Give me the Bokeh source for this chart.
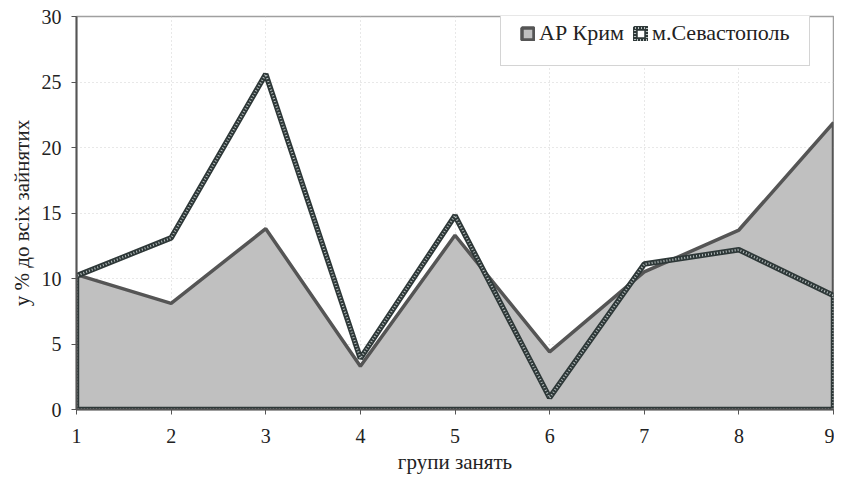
from bokeh.plotting import figure
from bokeh.models import Range1d, FixedTicker, Legend, LegendItem
from bokeh.embed import file_html
from bokeh.resources import INLINE

groups = [1, 2, 3, 4, 5, 6, 7, 8, 9]
krym = [10.3, 8.1, 13.8, 3.3, 13.3, 4.4, 10.5, 13.7, 21.9]
sevastopol = [10.2, 13.1, 25.6, 3.9, 14.8, 0.9, 11.1, 12.2, 8.7]
y_ticks = [0, 5, 10, 15, 20, 25, 30]
name_krym = "АР Крим"
name_sev = "м.Севастополь"

FONT = "'Liberation Serif', 'DejaVu Serif', serif"

p = figure(width=834, height=480, output_backend="svg", toolbar_location=None,
           x_range=Range1d(1, 9), y_range=Range1d(0, 30),
           min_border_left=76, min_border_right=1, min_border_top=16, min_border_bottom=71)

p.outline_line_color = "#a0a0a0"
p.outline_line_width = 1.5
p.background_fill_color = "white"

xs_poly = [groups[0]] + groups + [groups[-1]]
krym_poly = [0] + krym + [0]
sev_poly = [0] + sevastopol + [0]

r_k = p.patch(xs_poly, krym_poly, fill_color="#c0c0c0", line_color="#555555", line_width=3.5)
r_s1 = p.patch(xs_poly, sev_poly, fill_alpha=0, line_color="#2e3838", line_width=5.5)
r_s2 = p.patch(xs_poly, sev_poly, fill_alpha=0, line_color="#b8c0c0", line_width=2.2, line_dash="1 2")

for ax in (p.xaxis[0], p.yaxis[0]):
    ax.major_label_text_font = FONT
    ax.major_label_text_font_size = "20px"
    ax.major_label_text_color = "#222222"
    ax.axis_label_text_font = FONT
    ax.axis_label_text_font_size = "21px"
    ax.axis_label_text_font_style = "normal"
    ax.axis_label_text_color = "#222222"
    ax.minor_tick_line_color = None
    ax.major_tick_in = 0
    ax.major_tick_out = 5
    ax.major_tick_line_color = "#555555"
    ax.axis_line_color = "#555555"
    ax.axis_line_width = 2

p.xaxis.ticker = FixedTicker(ticks=groups)
p.yaxis.ticker = FixedTicker(ticks=y_ticks)
p.xaxis.axis_label = "групи занять"
p.yaxis.axis_label = "у % до всіх зайнятих"
p.xaxis.major_label_standoff = 14
p.yaxis.major_label_standoff = 10
p.xaxis.axis_label_standoff = 4
p.yaxis.axis_label_standoff = 5

p.xgrid.grid_line_color = "#d0d0d0"
p.xgrid.grid_line_dash = "1 3"
p.ygrid.grid_line_color = "#d0d0d0"
p.ygrid.grid_line_dash = "1 3"

legend = Legend(items=[LegendItem(label=name_krym, renderers=[r_k]),
                       LegendItem(label=name_sev, renderers=[r_s1, r_s2])],
                orientation="horizontal", location=(424, 343))
legend.label_text_font = FONT
legend.label_text_font_size = "22px"
legend.label_text_color = "#222222"
legend.glyph_width = 15
legend.glyph_height = 15
legend.label_height = 24
legend.padding = 19
legend.spacing = 9
legend.label_standoff = 4
legend.border_line_color = "#aaaaaa"
legend.border_line_width = 1.5
legend.background_fill_alpha = 1
legend.margin = 0
p.add_layout(legend, "center")

open("out.html", "w").write(file_html(p, INLINE))
